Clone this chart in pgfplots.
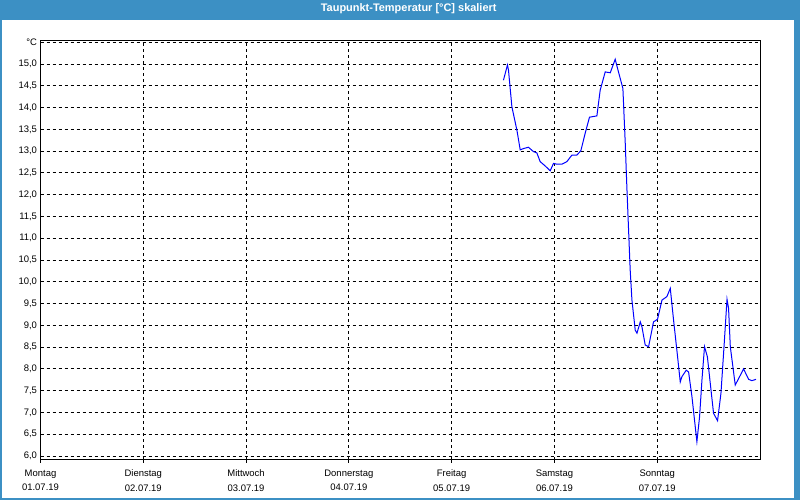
\documentclass[border=0pt]{standalone}
\usepackage{pgfplots}
\pgfplotsset{compat=1.18}
\usepackage{fontspec}
\setmainfont{Liberation Sans}
\definecolor{barblue}{RGB}{60,144,196}
\definecolor{curve}{RGB}{0,0,255}

% Taupunkt, Tage ab Montag 01.07.19 00:00
\pgfplotstableread{
t     v
4.504 14.63
4.543 14.98
4.553 14.86
4.586 14.02
4.635 13.48
4.667 13.03
4.699 13.06
4.747 13.09
4.796 12.99
4.829 12.96
4.861 12.76
4.910 12.66
4.959 12.55
4.991 12.72
5.024 12.70
5.072 12.70
5.121 12.76
5.170 12.91
5.218 12.91
5.257 13.01
5.299 13.41
5.341 13.78
5.413 13.81
5.445 14.40
5.494 14.82
5.543 14.80
5.591 15.11
5.623 14.82
5.666 14.44
5.689 13.18
5.705 12.15
5.737 10.27
5.754 9.58
5.786 8.89
5.803 8.82
5.835 9.08
5.851 8.97
5.883 8.55
5.916 8.51
5.964 9.08
6.003 9.14
6.046 9.58
6.094 9.66
6.127 9.85
6.159 9.12
6.198 8.28
6.224 7.70
6.240 7.82
6.282 7.97
6.305 7.93
6.338 7.36
6.370 6.67
6.386 6.33
6.412 6.90
6.435 7.74
6.460 8.51
6.488 8.28
6.516 7.67
6.548 6.98
6.587 6.81
6.620 7.44
6.652 8.59
6.679 9.60
6.694 9.39
6.711 8.51
6.759 7.63
6.801 7.82
6.840 8.00
6.889 7.76
6.921 7.73
6.961 7.76
}\taupunkt

\begin{document}
\begin{tikzpicture}[x=1bp,y=1bp]
\fill[barblue] (0,0) rectangle (800,500);
\fill[white] (2,2) rectangle (794,480);
\useasboundingbox (0,0) rectangle (800,500);
\node[text=white,font=\fontsize{11}{13}\selectfont\bfseries] at (408.7,491) {Taupunkt-Temperatur [°C] skaliert};
\begin{axis}[
    at={(40.5bp,40bp)}, anchor=south west,
    scale only axis, width=719.5bp, height=419bp,
    xmin=0, xmax=7, ymin=5.908, ymax=15.53,
    axis line style={black, line width=1bp},
    xtick={0,1,2,3,4,5,6},
    xticklabels={{Montag\\01.07.19},{Dienstag\\02.07.19},{Mittwoch\\03.07.19},{Donnerstag\\04.07.19},{Freitag\\05.07.19},{Samstag\\06.07.19},{Sonntag\\07.07.19}},
    xticklabel style={align=center, font=\fontsize{9.5}{15}\selectfont, yshift=-3bp},
    ytick={6,6.5,7,7.5,8,8.5,9,9.5,10,10.5,11,11.5,12,12.5,13,13.5,14,14.5,15,15.5},
    yticklabels={{6,0},{6,5},{7,0},{7,5},{8,0},{8,5},{9,0},{9,5},{10,0},{10,5},{11,0},{11,5},{12,0},{12,5},{13,0},{13,5},{14,0},{14,5},{15,0},{°C}},
    yticklabel style={font=\fontsize{9.5}{11}\selectfont, xshift=3bp},
    xtick pos=left, ytick pos=left,
    tick align=outside, major tick length=3bp,
    xtick style={black, line width=1bp},
    ytick style={draw=none},
    grid=major,
    major grid style={black, line width=0.9bp, dash pattern=on 3bp off 3bp},
    clip=true,
]
\addplot[curve, line width=1bp, mark=none] table[x=t, y=v] {\taupunkt};
\end{axis}
\end{tikzpicture}
\end{document}
